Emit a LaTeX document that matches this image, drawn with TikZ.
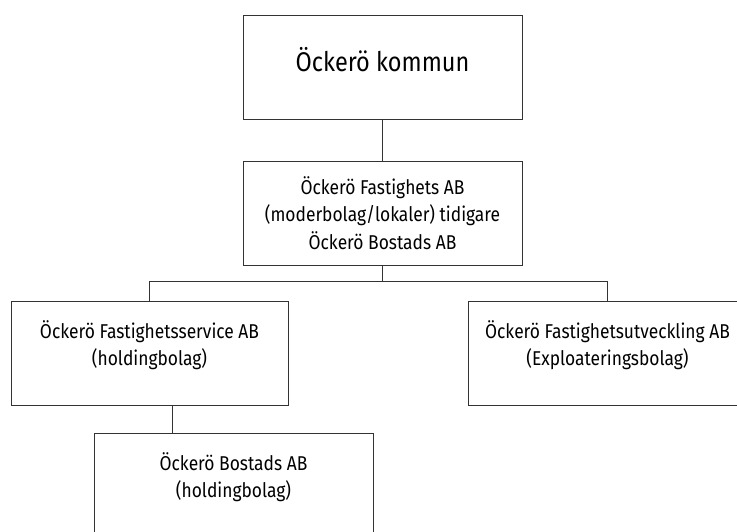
\documentclass[tikz,border=0pt]{standalone}
\usepackage{fontspec}
\setmainfont{Fira Sans}[FakeStretch=0.87]

\begin{document}
\begin{tikzpicture}[x=1pt,y=-1pt]
\tikzstyle{box}=[rectangle, draw=black!80, line width=0.8pt, minimum width=279pt,
    minimum height=104pt, align=center, font=\fontsize{20}{27.5}\selectfont]
\tikzstyle{lift}=[text depth=20pt]
\tikzstyle{link}=[draw=black!80, line width=0.8pt]
\useasboundingbox (0,0) rectangle (737,532);

 \node[box, lift, text depth=16pt, font=\fontsize{27}{30}\selectfont] (k1) at (382.5,67) {Öckerö kommun};
 \node[box] (f1) at (382.5,213) {Öckerö Fastighets AB\\(moderbolag/lokaler) tidigare\\Öckerö Bostads AB};

 \node[box, lift, minimum width=277pt] (s1) at (149.5,353) {Öckerö Fastighetsservice AB\\(holdingbolag)};
 \node[box, lift] (u1) at (607.5,353) {Öckerö Fastighetsutveckling AB\\(Exploateringsbolag)};

 \node[box, lift] (b1) at (233.5,485) {Öckerö Bostads AB\\(holdingbolag)};

\draw[link] (k1) -- (f1);
\draw[link] (f1.south) -- ++(0,16) -| (s1.north);
\draw[link] (f1.south) -- ++(0,16) -| (u1.north);
\draw[link] ([xshift=23pt]s1.south) -- ([xshift=23pt]s1.south |- b1.north);

\end{tikzpicture}
\end{document}
